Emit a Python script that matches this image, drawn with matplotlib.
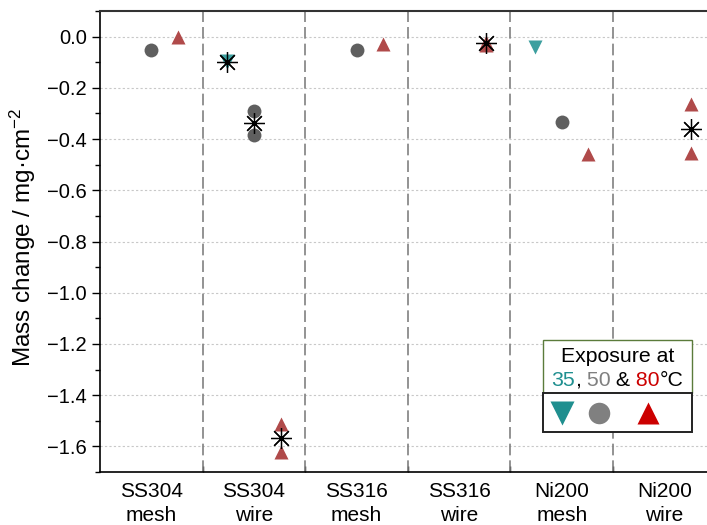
import matplotlib
matplotlib.use("Agg")
import matplotlib.pyplot as plt
import numpy as np
from matplotlib.patches import Rectangle
from matplotlib.lines import Line2D
from matplotlib.offsetbox import TextArea, HPacker, AnnotationBbox
from matplotlib.ticker import MultipleLocator, FixedLocator

plt.rcParams['font.family'] = ['Liberation Sans', 'DejaVu Sans']
plt.rcParams['mathtext.fontset'] = 'custom'
plt.rcParams['mathtext.rm'] = 'Liberation Sans'
plt.rcParams['mathtext.it'] = 'Liberation Sans'

# data: mass change (mg/cm2) per sample, replicates per exposure temperature
categories = ["SS304\nmesh", "SS304\nwire", "SS316\nmesh", "SS316\nwire", "Ni200\nmesh", "Ni200\nwire"]
t35 = [[], [-0.095, -0.100], [], [], [-0.040], []]
t50 = [[-0.053], [-0.290, -0.383], [-0.052], [], [-0.333], []]
t80 = [[0.000], [-1.511, -1.621], [-0.028], [-0.020, -0.032], [-0.460], [-0.264, -0.455]]

c35, c50, c80 = '#3c9f9f', '#5f5f5f', '#b04a4a'
leg35, leg50, leg80 = '#1f8f8f', '#808080', '#cc0000'

W, H = 707, 525
fig = plt.figure(figsize=(W / 100, H / 100), dpi=100)
ax_l, ax_t, ax_b, ax_w = 100, 11, 472, 615.6
ax = fig.add_axes([ax_l / W, (H - ax_b) / H, ax_w / W, (ax_b - ax_t) / H])

series = [(t35, -0.26, 'v', c35), (t50, 0.0, 'o', c50), (t80, 0.26, '^', c80)]
for vals, off, mk, col in series:
    for i, reps in enumerate(vals):
        if not reps:
            continue
        xs = np.full(len(reps), i + off)
        ax.plot(xs, reps, ls='none', marker=mk, ms=10, color=col, mec='none', zorder=3)
        if len(reps) > 1:
            ax.plot([i + off], [np.mean(reps)], ls='none', marker=(8, 2, 0), ms=15,
                    color='black', mew=0.9, zorder=4)
            ax.plot([i + off], [np.mean(reps)], ls='none', marker='o', ms=2.5,
                    color='black', zorder=5)

ax.set_xlim(-0.5, 5.5)
ax.set_ylim(-1.7, 0.1)

for b in np.arange(0.5, 5.5, 1.0):
    ax.axvline(b, color='#808080', lw=1.2, ls=(0, (7, 3)), zorder=1)

ax.yaxis.set_major_locator(MultipleLocator(0.2))
ax.yaxis.set_minor_locator(MultipleLocator(0.1))
ax.yaxis.grid(True, which='major', color='#c8c8c8', lw=0.8, ls=(0, (2, 2)))
ax.set_axisbelow(True)

ax.xaxis.set_major_locator(FixedLocator(range(len(categories))))
ax.set_xticklabels(categories, fontsize=15, linespacing=1.33)
ax.xaxis.set_minor_locator(FixedLocator(np.arange(0.5, 5.5, 1.0)))
ax.tick_params(axis='x', which='major', length=0, pad=7)
ax.tick_params(axis='x', which='minor', direction='in', length=4, width=1)
ax.tick_params(axis='y', which='major', direction='out', length=6, width=1, labelsize=14.5)
ax.tick_params(axis='y', which='minor', direction='out', length=3.5, width=1)
ax.yaxis.set_major_formatter(matplotlib.ticker.FuncFormatter(lambda v, _: '{:.1f}'.format(v).replace('-', '\u2212')))

for s in ['left', 'bottom']:
    ax.spines[s].set_linewidth(1.2)
ax.spines['top'].set_linewidth(1.5)
ax.spines['top'].set_color('#333333')

ax.set_ylabel('Mass change / mg\u00b7cm$^{\u22122}$', fontsize=17.5)
ax.yaxis.set_label_coords((38 - ax_l) / ax_w, 1 - (237.5 - ax_t) / (ax_b - ax_t))

# custom legend box
def fx(px):
    return px / W

def fy(py):
    return 1 - py / H

fig.add_artist(Rectangle((fx(543), fy(393)), fx(692) - fx(543), fy(340) - fy(393),
                         transform=fig.transFigure, facecolor='white', edgecolor='#5b7b3b', lw=1, zorder=5))
fig.add_artist(Rectangle((fx(543), fy(432)), fx(692) - fx(543), fy(393) - fy(432),
                         transform=fig.transFigure, facecolor='white', edgecolor='#222222', lw=1.4, zorder=5))
fig.text(fx(617.5), fy(356), 'Exposure at', ha='center', va='center', fontsize=15.3, zorder=6)

parts = [("35", leg35), (",", 'black'), (" 50", leg50), (" &", 'black'), (" 80", leg80), ("\u00b0C", 'black')]
boxes = [TextArea(t, textprops=dict(color=c, fontsize=15.3)) for t, c in parts]
pack = HPacker(children=boxes, pad=0, sep=0, align='baseline')
ab = AnnotationBbox(pack, (fx(617.5), fy(380)), xycoords='figure fraction', frameon=False,
                    box_alignment=(0.5, 0.5), pad=0, zorder=6)
fig.add_artist(ab)

for x, mk, col, ms in [(562, 'v', leg35, 17), (599, 'o', leg50, 15.5), (648, '^', leg80, 16.5)]:
    fig.add_artist(Line2D([fx(x)], [fy(413)], transform=fig.transFigure, ls='none',
                          marker=mk, ms=ms, color=col, mec='none', zorder=6))

fig.savefig('out.png', dpi=100)
